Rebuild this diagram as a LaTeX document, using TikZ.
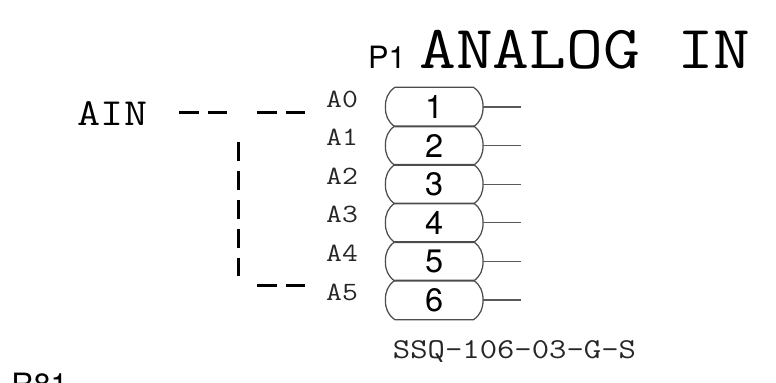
\documentclass[tikz,border=0pt]{standalone}
\usepackage{fontspec}
\setmainfont{TeX Gyre Heros}
\setmonofont[FakeStretch=1.17]{Latin Modern Mono}

\tikzset{
	outline/.style={draw=black!70, line width=0.025cm},
	pinbox/.style={minimum width=1.94cm, minimum height=0.772cm, inner sep=0pt, font=\fontsize{18.5}{19}\selectfont,
		append after command={\pgfextra{\let\pinname\tikzlastnode
			\draw [outline] ([xshift=0.19cm]\pinname.north west) -- ([xshift=-0.19cm]\pinname.north east)
				to[out=-35,in=90] (\pinname.east)
				to[out=-90,in=35] ([xshift=-0.19cm]\pinname.south east)
				-- ([xshift=0.19cm]\pinname.south west)
				to[out=145,in=-90] (\pinname.west)
				to[out=90,in=-145] ([xshift=0.19cm]\pinname.north west);}}},
	lead/.style={draw=black!65, line width=0.025cm},
	bus/.style={black, line width=0.06cm, dash pattern=on 0.39cm off 0.19cm},
	netlabel/.style={anchor=base, inner sep=0pt, text=black!85, font=\ttfamily\fontsize{15}{15}\selectfont},
	biglabel/.style={anchor=base, inner sep=0pt, font=\ttfamily\fontsize{34.8}{35}\selectfont},
	reflabel/.style={anchor=base, inner sep=0pt, font=\fontsize{17.5}{18}\selectfont}
}

\begin{document}
\begin{tikzpicture}[x=0.02cm,y=-0.02cm]
\useasboundingbox (0,0) rectangle (776,382);
\clip (0,0) rectangle (776,382);

\node (title) at (585,68) [biglabel] {ANALOG IN};
\node (refp) at (387,68) [reflabel] {P1};
\node (refr) at (39.5,395) [reflabel] {R81};

\node (ain) at (112.5,125.7) [anchor=base,inner sep=0pt,font=\ttfamily\fontsize{21.8}{22}\selectfont] {AIN};
\node (partno) at (514.5,358) [anchor=base,inner sep=0pt,text=black!85,font=\ttfamily\fontsize{16.4}{17}\selectfont] {SSQ-106-03-G-S};

\node (pin1) at (434.2,107) [pinbox] {1};
\node (pin2) at (434.2,145.6) [pinbox] {2};
\node (pin3) at (434.2,184.2) [pinbox] {3};
\node (pin4) at (434.2,222.8) [pinbox] {4};
\node (pin5) at (434.2,261.4) [pinbox] {5};
\node (pin6) at (434.2,300) [pinbox] {6};

\node (a0) at (342,107) [netlabel] {A0};
\node (a1) at (342,145.6) [netlabel] {A1};
\node (a2) at (342,184.2) [netlabel] {A2};
\node (a3) at (342,222.8) [netlabel] {A3};
\node (a4) at (342,261.4) [netlabel] {A4};
\node (a5) at (342,300) [netlabel] {A5};

\coordinate (end1) at (521,107);
\coordinate (end2) at (521,145.6);
\coordinate (end3) at (521,184.2);
\coordinate (end4) at (521,222.8);
\coordinate (end5) at (521,261.4);
\coordinate (end6) at (521,300);

\draw [lead] (pin1.east) -- (end1);
\draw [lead] (pin2.east) -- (end2);
\draw [lead] (pin3.east) -- (end3);
\draw [lead] (pin4.east) -- (end4);
\draw [lead] (pin5.east) -- (end5);
\draw [lead] (pin6.east) -- (end6);

\coordinate (ainout) at (179,112.3);
\coordinate (ainmid) at (228,112.3);
\coordinate (a0in) at (257,112.3);
\coordinate (a0end) at (305,112.3);
\coordinate (vtop) at (238,141.7);
\coordinate (vbot) at (238,275.5);
\coordinate (a5in) at (257,285.7);
\coordinate (a5end) at (305,285.7);

\draw [bus] (ainout) -- (ainmid);
\draw [bus] (a0in) -- (a0end);
\draw [bus] (vtop) -- (vbot);
\draw [bus] (a5in) -- (a5end);

\end{tikzpicture}
\end{document}
